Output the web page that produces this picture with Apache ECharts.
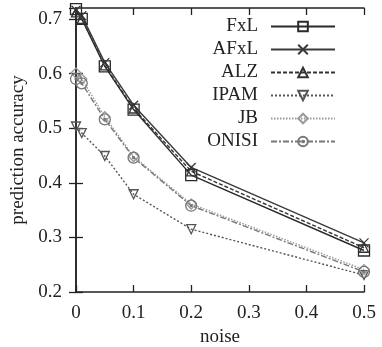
<!DOCTYPE html>
<html>
<head>
<meta charset="utf-8">
<script src="https://cdn.jsdelivr.net/npm/echarts@6/dist/echarts.min.js"></script>
<style>
  html, body { margin: 0; padding: 0; background: #fff; }
  #chart { width: 382px; height: 347px; }
</style>
</head>
<body>
<div id="chart"></div>
<script>
const noise = [0, 0.01, 0.05, 0.1, 0.2, 0.5];
const fxl = [0.718, 0.700, 0.613, 0.534, 0.414, 0.276];
const afxl = [0.716, 0.706, 0.620, 0.542, 0.428, 0.290];
const alz = [0.712, 0.700, 0.615, 0.536, 0.421, 0.281];
const ipam = [0.503, 0.491, 0.449, 0.379, 0.315, 0.231];
const jb = [0.601, 0.590, 0.521, 0.448, 0.361, 0.241];
const onisi = [0.590, 0.582, 0.516, 0.446, 0.358, 0.237];
const yTicks = [0.2, 0.3, 0.4, 0.5, 0.6, 0.7];
const xTicks = [0, 0.1, 0.2, 0.3, 0.4, 0.5];

const font = "'Liberation Serif', 'DejaVu Serif', serif";
const ink = "#222";

const SYM_X = "path://M0,0L10,10M10,0L0,10";
const SYM_DIAMOND = "path://M5,0L10,5L5,10L0,5Z";
const SYM_ONISI = "path://M10,5A5,5 0 1,1 0,5A5,5 0 1,1 10,5ZM5.9,5A0.9,0.9 0 1,1 4.1,5A0.9,0.9 0 1,1 5.9,5Z";

function pairs(values) {
  return noise.map((x, i) => [x, values[i]]);
}

function makeSeries(name, values, color, lineType, symbol, size, rotate) {
  return {
    type: "line",
    name,
    data: pairs(values),
    symbol,
    symbolSize: size,
    symbolRotate: rotate || 0,
    showAllSymbol: true,
    lineStyle: { color, width: 1.4, type: lineType },
    itemStyle: { color: "none", borderColor: color, borderWidth: 1.3 },
    emphasis: { disabled: true },
    animation: false
  };
}

const tickStyle = { inside: true, length: 7, lineStyle: { color: ink, width: 1.3 } };
const axisLine = { show: true, lineStyle: { color: ink, width: 1.5 } };

const chart = echarts.init(document.getElementById("chart"), null, { renderer: "canvas" });
chart.setOption({
  backgroundColor: "#fff",
  animation: false,
  grid: { left: 76, right: 18, top: 8, bottom: 55, outerBoundsMode: "none" },
  legend: {
    orient: "vertical",
    right: 41,
    top: 12,
    align: "right",
    itemWidth: 64,
    itemHeight: 12,
    itemGap: 4,
    textStyle: { fontFamily: font, fontSize: 19, color: ink, padding: [0, 8, 0, 0] },
    data: ["FxL", "AFxL", "ALZ", "IPAM", "JB", "ONISI"]
  },
  xAxis: [
    {
      type: "value",
      min: 0,
      max: 0.5,
      interval: 0.1,
      name: "noise",
      nameLocation: "middle",
      nameGap: 35,
      nameTextStyle: { fontFamily: font, fontSize: 19, color: ink },
      axisLine,
      axisTick: tickStyle,
      splitLine: { show: false },
      axisLabel: {
        fontFamily: font, fontSize: 19, color: ink, margin: 12,
        formatter: (v) => String(xTicks.find((t) => Math.abs(t - v) < 1e-9) ?? v)
      }
    },
    {
      type: "value",
      position: "top",
      min: 0,
      max: 0.5,
      interval: 0.1,
      axisLine,
      axisTick: tickStyle,
      axisLabel: { show: false },
      splitLine: { show: false }
    }
  ],
  yAxis: [
    {
      type: "value",
      min: 0.2,
      max: 0.72,
      interval: 0.1,
      name: "prediction accuracy",
      nameLocation: "middle",
      nameGap: 46,
      nameTextStyle: { fontFamily: font, fontSize: 19, color: ink },
      axisLine,
      axisTick: tickStyle,
      splitLine: { show: false },
      axisLabel: {
        fontFamily: font, fontSize: 19, color: ink, margin: 14, showMaxLabel: false,
        formatter: (v) => {
          const t = yTicks.find((k) => Math.abs(k - v) < 1e-9);
          return t === undefined ? "" : t.toFixed(1);
        }
      }
    },
    {
      type: "value",
      position: "right",
      min: 0.2,
      max: 0.72,
      interval: 0.1,
      axisLine,
      axisTick: tickStyle,
      axisLabel: { show: false },
      splitLine: { show: false }
    }
  ],
  series: [
    makeSeries("FxL", fxl, "#2a2a2a", "solid", "rect", 11),
    makeSeries("AFxL", afxl, "#3a3a3a", "solid", SYM_X, 9),
    makeSeries("ALZ", alz, "#333", [4, 2], "triangle", 9),
    makeSeries("IPAM", ipam, "#555", [2, 2], "triangle", 9, 180),
    makeSeries("JB", jb, "#999", [1.5, 1.5], SYM_DIAMOND, 10),
    makeSeries("ONISI", onisi, "#777", [6, 2, 2, 2], SYM_ONISI, 11)
  ]
});
</script>
</body>
</html>
